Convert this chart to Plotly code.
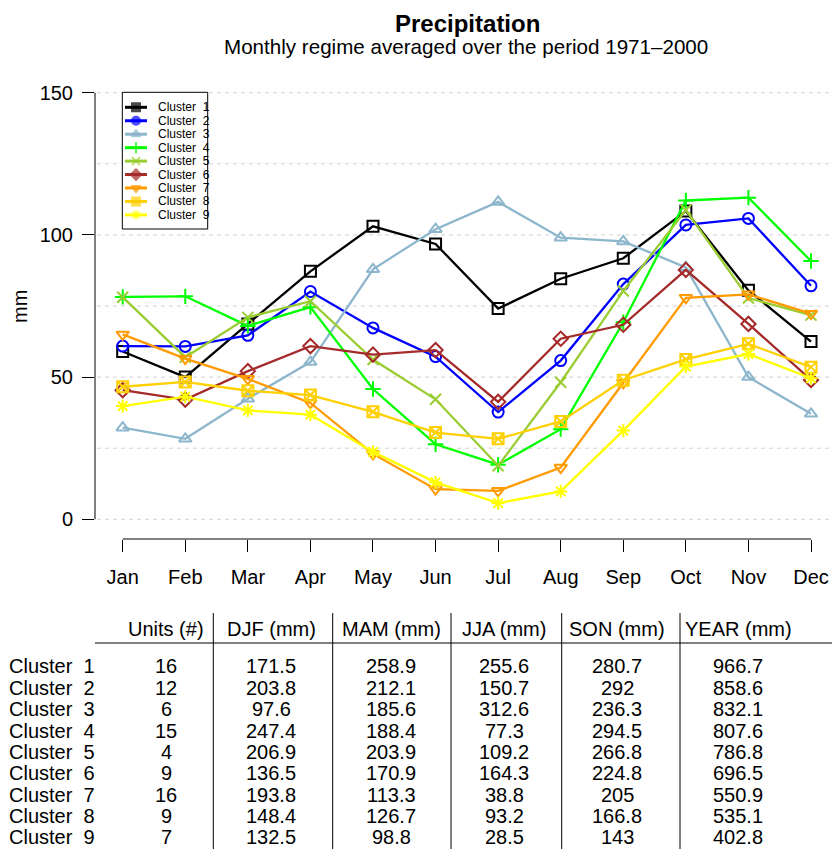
import plotly.graph_objects as go

# ---- data -------------------------------------------------------------
months = ["Jan", "Feb", "Mar", "Apr", "May", "Jun",
          "Jul", "Aug", "Sep", "Oct", "Nov", "Dec"]
clusters = ["Cluster  1", "Cluster  2", "Cluster  3", "Cluster  4", "Cluster  5",
            "Cluster  6", "Cluster  7", "Cluster  8", "Cluster  9"]

c1 = [59.0, 50.0, 68.7, 87.2, 103.0, 96.8, 74.1, 84.6, 91.8, 108.4, 80.5, 62.5]
c2 = [60.9, 60.8, 64.7, 80.1, 67.3, 57.2, 37.7, 55.8, 82.7, 103.5, 105.8, 82.1]
c3 = [32.2, 28.3, 42.4, 55.3, 87.9, 102.0, 111.6, 99.0, 97.7, 88.6, 50.0, 37.1]
c4 = [78.2, 78.4, 68.0, 74.6, 45.8, 26.4, 19.2, 31.7, 69.3, 112.1, 113.1, 90.8]
c5 = [78.1, 57.0, 71.0, 76.7, 56.2, 42.2, 18.8, 48.2, 80.3, 108.7, 77.8, 71.8]
c6 = [45.4, 42.1, 52.1, 60.9, 57.9, 59.5, 41.3, 63.5, 68.4, 87.7, 68.7, 49.0]
c7 = [65.0, 56.5, 49.4, 40.9, 23.0, 10.6, 10.0, 18.2, 48.0, 77.9, 79.1, 72.3]
c8 = [46.6, 48.3, 45.2, 43.7, 37.8, 30.5, 28.3, 34.4, 48.9, 56.2, 61.7, 53.5]
c9 = [39.8, 43.1, 38.3, 36.8, 23.7, 13.0, 5.7, 9.8, 31.2, 53.7, 58.1, 49.6]
series = [c1, c2, c3, c4, c5, c6, c7, c8, c9]

# summary table
table_header = ["Units (#)", "DJF (mm)", "MAM (mm)", "JJA (mm)", "SON (mm)", "YEAR (mm)"]
units = ["16", "12", "6", "15", "4", "9", "16", "9", "7"]
djf = ["171.5", "203.8", "97.6", "247.4", "206.9", "136.5", "193.8", "148.4", "132.5"]
mam = ["258.9", "212.1", "185.6", "188.4", "203.9", "170.9", "113.3", "126.7", "98.8"]
jja = ["255.6", "150.7", "312.6", "77.3", "109.2", "164.3", "38.8", "93.2", "28.5"]
son = ["280.7", "292", "236.3", "294.5", "266.8", "224.8", "205", "166.8", "143"]
year = ["966.7", "858.6", "832.1", "807.6", "786.8", "696.5", "550.9", "535.1", "402.8"]
table_cols = [units, djf, mam, jja, son, year]

y_ticks = [0, 50, 100, 150]
y_grid = [0, 25, 50, 75, 100, 125, 150]

# ---- styling ----------------------------------------------------------
colors = ["#000000", "#0000FF", "#8DB6CD", "#00FF00", "#9ACD32",
          "#A52A2A", "#FF9A00", "#FFD000", "#FFFF00"]
symbols = ["square-open", "circle-open", "triangle-up-open", "cross-thin-open",
           "x-thin-open", "diamond-open", "triangle-down-open", "square-x-open",
           "asterisk-open"]
key_symbols = ["square", "circle", "triangle-up", "cross-thin-open", "x-thin-open",
               "diamond", "triangle-down", "square", "asterisk-open"]
FONT = "Liberation Sans, Arial, Helvetica, sans-serif"

W, H = 832, 849
L, R, T, B = 95, 832, 75, 539          # plot area in pixels
PX_PER_MM = 2.844
y_top = (519.3 - T) / PX_PER_MM
y_bot = -(B - 519.3) / PX_PER_MM
x_step = (811 - 122.7) / 11
x_lo = 1 - (122.7 - L) / x_step
x_hi = 12 + (R - 811) / x_step


def px(x):
    return (x - L) / (R - L)


def py(y):
    return (B - y) / (B - T)


fig = go.Figure()
xs = list(range(1, 13))

for name, vals, col, sym in zip(clusters, series, colors, symbols):
    fig.add_trace(go.Scatter(
        x=xs, y=vals, mode="lines+markers", name=name, showlegend=False,
        line=dict(color=col, width=2.3),
        marker=dict(symbol=sym, size=11, color=col, line=dict(color=col, width=2)),
    ))

shapes = []
# dashed horizontal guides
for g in y_grid:
    shapes.append(dict(type="line", xref="paper", yref="y", x0=px(97), x1=1, y0=g, y1=g,
                       line=dict(color="#D3D3D3", width=1, dash="4px,4px"), layer="below"))

# legend frame (white, covering the guides)
shapes.append(dict(type="rect", xref="paper", yref="paper",
                   x0=px(122.3), x1=px(207.7), y0=py(229), y1=py(92.3),
                   line=dict(color="black", width=1), fillcolor="white", layer="below"))

# ---- legend key, drawn in pixel units on an overlay axis ---------------
row0, row_step = 107.3, 13.45
for i, (name, col, sym) in enumerate(zip(clusters, colors, key_symbols)):
    yy = row0 + i * row_step
    fig.add_trace(go.Scatter(
        x=[125, 136, 147], y=[yy] * 3, mode="lines+markers", showlegend=False,
        xaxis="x2", yaxis="y2", hoverinfo="skip",
        line=dict(color=col, width=3),
        marker=dict(symbol=sym, size=[0, 8, 0], color=col,
                    line=dict(color=col, width=2)),
    ))
    fig.add_annotation(x=px(156), y=py(yy), xref="paper", yref="paper",
                       text=name, showarrow=False, xanchor="left", yanchor="middle",
                       font=dict(family=FONT, size=12, color="black"))

shapes += [
    # detached axis lines
    dict(type="line", xref="paper", yref="y", x0=0, x1=0, y0=0, y1=150,
         line=dict(color="black", width=1)),
    dict(type="line", xref="x", yref="paper", x0=1, x1=12, y0=0, y1=0,
         line=dict(color="black", width=1)),
    # table rules
    dict(type="line", xref="paper", yref="paper", x0=0, x1=1, y0=py(643), y1=py(643),
         line=dict(color="black", width=1)),
]
for vx in [213.3, 332.7, 451, 561.7, 680]:
    shapes.append(dict(type="line", xref="paper", yref="paper",
                       x0=px(vx), x1=px(vx), y0=py(613), y1=py(850),
                       line=dict(color="black", width=1)))

annotations = [
    dict(text="<b>Precipitation</b>", x=px(467), y=py(23.5), font=dict(size=24)),
    dict(text="Monthly regime averaged over the period 1971\u20132000",
         x=px(466), y=py(46), font=dict(size=20.6)),
    dict(text="mm", x=px(20), y=py(307), textangle=-90, font=dict(size=20)),
]

col_centers = [166, 271, 391, 504, 617, 738]
for cx, head in zip(col_centers, table_header):
    annotations.append(dict(text=head, x=px(cx), y=py(629), font=dict(size=20)))

row_y0, row_dy = 666.5, 21.35
for r, name in enumerate(clusters):
    yy = row_y0 + r * row_dy
    annotations.append(dict(text=name, x=px(7), y=py(yy), xanchor="left",
                            font=dict(size=20)))
    for cx, col in zip(col_centers, table_cols):
        annotations.append(dict(text=col[r], x=px(cx), y=py(yy), font=dict(size=20)))

for a in annotations:
    a.setdefault("xref", "paper")
    a.setdefault("yref", "paper")
    a.setdefault("showarrow", False)
    a.setdefault("xanchor", "center")
    a.setdefault("yanchor", "middle")
    a["font"] = dict(family=FONT, color="black", **a["font"])
    fig.add_annotation(**a)

fig.update_layout(
    width=W, height=H,
    margin=dict(l=L, r=W - R, t=T, b=H - B, pad=0),
    paper_bgcolor="white", plot_bgcolor="white",
    font=dict(family=FONT, color="black"),
    shapes=shapes,
    xaxis=dict(range=[x_lo, x_hi], tickvals=xs, ticktext=months, showgrid=False,
               zeroline=False, showline=False, ticks="outside", ticklen=12,
               tickcolor="black", tickwidth=1, ticklabelstandoff=8,
               tickfont=dict(size=20, family=FONT, color="black")),
    yaxis=dict(range=[y_bot, y_top], tickvals=y_ticks, showgrid=False, zeroline=False,
               showline=False, ticks="outside", ticklen=12, tickcolor="black",
               tickwidth=1, ticklabelstandoff=5,
               tickfont=dict(size=20, family=FONT, color="black")),
    xaxis2=dict(overlaying="x", anchor="y2", range=[L, R], visible=False,
                showgrid=False, zeroline=False),
    yaxis2=dict(overlaying="y", anchor="x2", range=[B, T], visible=False,
                showgrid=False, zeroline=False),
)

fig.write_html("out.html")
